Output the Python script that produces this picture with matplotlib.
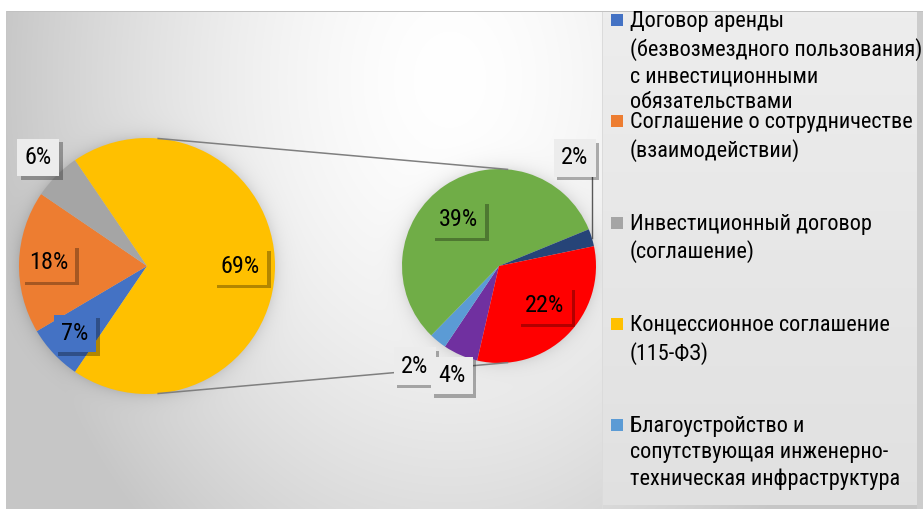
import numpy as np
import matplotlib.pyplot as plt
from matplotlib import patheffects
from matplotlib.patches import Rectangle

plt.rcParams['font.family'] = ['Roboto Condensed', 'Archivo Narrow', 'Liberation Sans', 'DejaVu Sans']

# данные: основной круг и вторичный круг (разбивка концессионных соглашений)
left_values = [7, 18, 6, 69]
left_colors = ['#4472C4', '#ED7D31', '#A5A5A5', '#FFC000']
right_values = [4, 2, 39, 2, 22]
right_colors = ['#7030A0', '#5B9BD5', '#70AD47', '#264478', '#FF0000']

legend_labels = [
    'Договор аренды\n(безвозмездного пользования)\nс инвестиционными\nобязательствами',
    'Соглашение о сотрудничестве\n(взаимодействии)',
    'Инвестиционный договор\n(соглашение)',
    'Концессионное соглашение\n(115-ФЗ)',
    'Благоустройство и\nсопутствующая инженерно-\nтехническая инфраструктура',
]
legend_colors = ['#4472C4', '#ED7D31', '#A5A5A5', '#FFC000', '#5B9BD5']

W, H = 923, 509
total = sum(left_values)

# геометрия кругов (в пикселях, y вниз)
lc, lr = (147, 266), 128
rc, rr = (499, 266), 97

fig = plt.figure(figsize=(W / 100, H / 100), dpi=100)
ax = fig.add_axes([0, 0, 1, 1])

# фон: градиент + мягкие тени кругов
yy, xx = np.mgrid[0:H, 0:W] + 0.5
d = np.sqrt(((xx - 450) / 450) ** 2 + ((yy - 80) / 600) ** 2)
v = 1 - 0.22 * np.clip(d, 0, 1) ** 1.6
for (cx, cy), r in [(lc, lr), (rc, rr)]:
    dist = np.sqrt((xx - cx) ** 2 + (yy - cy) ** 2) - r
    v -= 0.09 * np.exp(-np.clip(dist, 0, None) / 7)
panel = (xx >= 603) & (xx < 917) & (yy >= 12) & (yy < 505)
v[panel] = 0.93 - 0.05 * (yy[panel] - 12) / 493
v[(xx >= 602) & (xx < 603) & (yy >= 12)] = 0.86
v[(xx >= 917) & (yy >= 12)] = 0.80
v[(yy < 11) | (xx < 6)] = 1.0
v[11:12, 6:] = 0.76
v[11:, 6:7] = 0.78
ax.imshow(np.dstack([v, v, v]), extent=(0, W, 0, H), origin='upper', zorder=0)

# основной круг: «концессионная» доля по центру справа
start_left = 360 * (sum(left_values[:-1]) + left_values[-1] / 2) / total
wl, _ = ax.pie(left_values, colors=left_colors, center=(lc[0], H - lc[1]), radius=lr,
               startangle=start_left, counterclock=False, frame=True,
               wedgeprops=dict(linewidth=0))
wr, _ = ax.pie(right_values, colors=right_colors, center=(rc[0], H - rc[1]), radius=rr,
               startangle=257, counterclock=False, frame=True,
               wedgeprops=dict(linewidth=0))

# соединительные линии
for a in (85, -85):
    t = np.radians(a)
    ax.plot([lc[0] + lr * np.cos(t), rc[0] + rr * np.cos(t)],
            [H - lc[1] + lr * np.sin(t), H - rc[1] + rr * np.sin(t)],
            color='#7f7f7f', lw=1.1, zorder=1)

shadow = [patheffects.withSimplePatchShadow(offset=(2.5, -2.5), shadow_rgbFace='k', alpha=0.3)]


def put_label(wedge, value, rfac, dang, face, z):
    cx, cy = wedge.center
    mid = np.radians((wedge.theta1 + wedge.theta2) / 2 + dang)
    x = cx + rfac * wedge.r * np.cos(mid)
    y = cy + rfac * wedge.r * np.sin(mid)
    t = ax.text(x, y, f'{value / total * 100:.0f}%', ha='center', va='center', fontsize=17.5,
                color='black', zorder=z,
                bbox=dict(boxstyle='square,pad=0.3', fc=face, ec='none'))
    t.get_bbox_patch().set_path_effects(shadow)
    return x, y


left_pos = [(0.77, 0), (0.77, 0), (1.2, 0), (0.73, 0)]
for w, val, (rf, da), col in zip(wl, left_values, left_pos, left_colors):
    put_label(w, val, rf, da, col if rf < 1 else '#ececec', 5)

right_pos = [(1.23, 0), (1.35, -1), (0.64, 7), (1.36, 38), (0.62, 5)]
for i, (w, val, (rf, da), col) in enumerate(zip(wr, right_values, right_pos, right_colors)):
    x, y = put_label(w, val, rf, da, col if rf < 1 else '#ececec', 6 - 0.1 * i)
    if da > 20:
        # выноска к узкому сектору
        mid = np.radians((w.theta1 + w.theta2) / 2)
        px = w.center[0] + w.r * np.cos(mid)
        py = w.center[1] + w.r * np.sin(mid)
        ax.plot([px, px], [py, y], color='#595959', lw=1, zorder=4)

# легенда
for i, (lab, col) in enumerate(zip(legend_labels, legend_colors)):
    yc = H - (20 + i * 101.3)
    ax.add_patch(Rectangle((611, yc - 6), 12, 12, fc=col, ec='none', zorder=3))
    ax.text(630, yc + 9, lab, ha='left', va='top', fontsize=16, linespacing=1.33,
            color='black', zorder=3)

ax.set_xlim(0, W)
ax.set_ylim(0, H)
ax.set_axis_off()

fig.savefig('out.png', dpi=100)
